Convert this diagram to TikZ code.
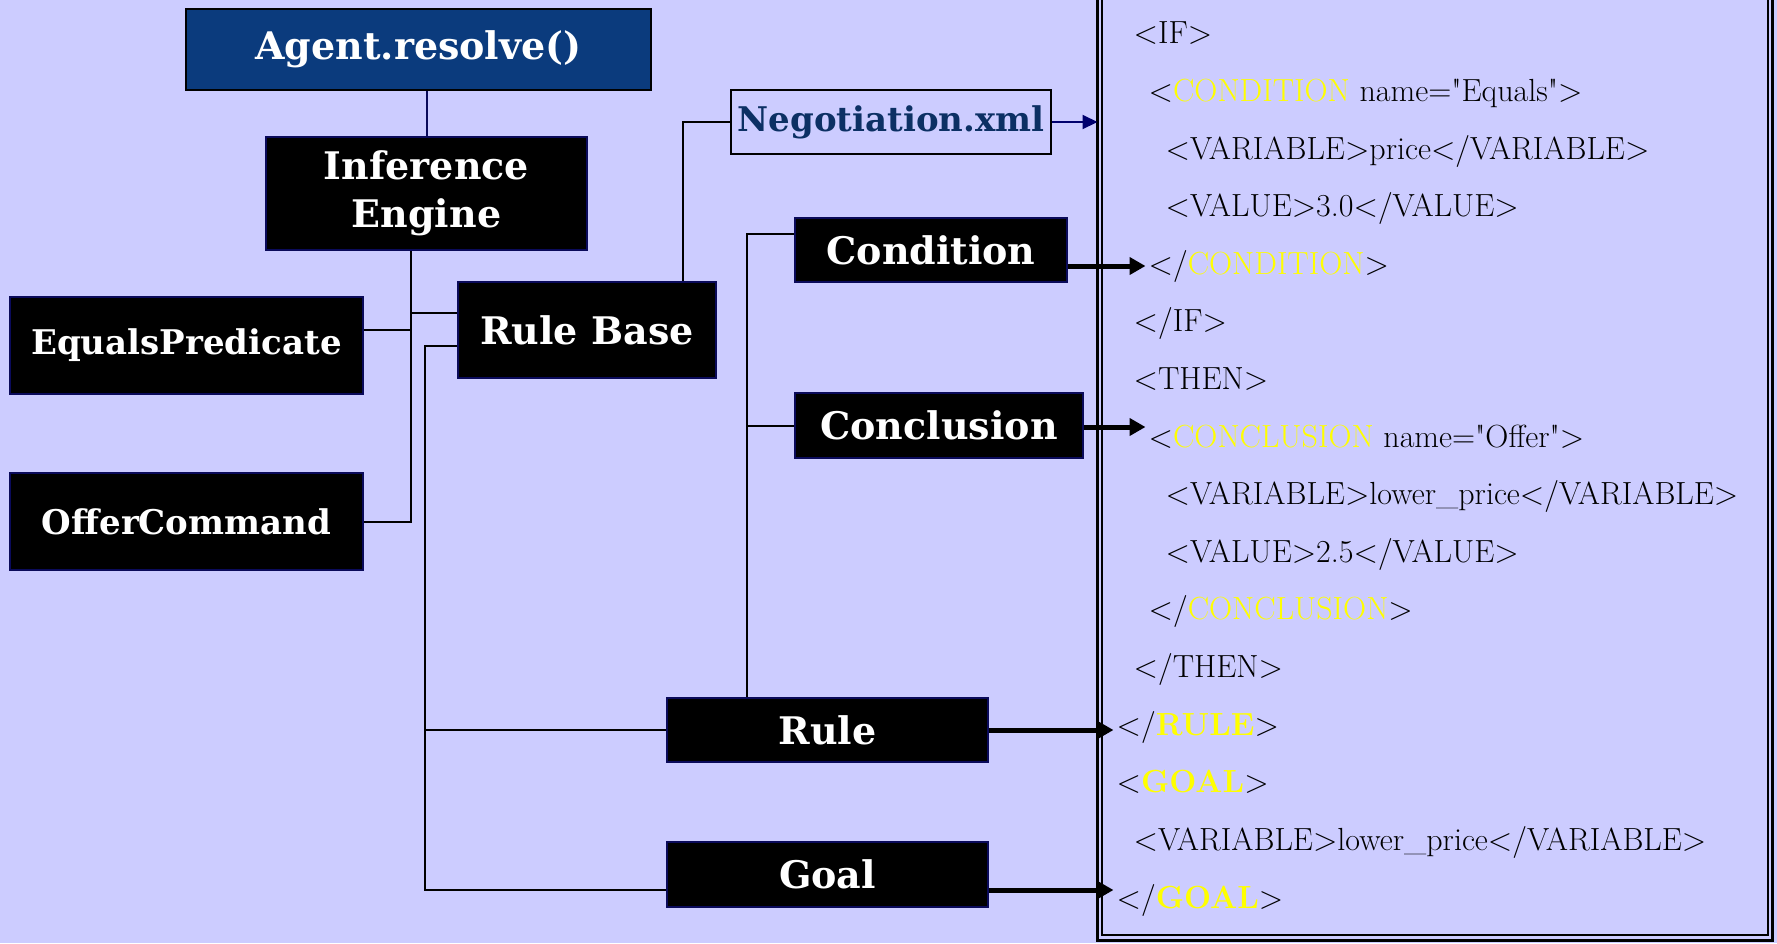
\documentclass[tikz,border=0pt]{standalone}
\usepackage{fontspec}
\newfontfamily\boxfont{DejaVu Serif}
\newfontfamily\xmlfont{Latin Modern Roman}[Ligatures=TeXOff]
\usetikzlibrary{arrows.meta,calc}
\definecolor{bgcol}{RGB}{204,204,255}
\definecolor{agentblue}{RGB}{11,59,125}
\definecolor{navyedge}{RGB}{10,10,90}
\definecolor{filetext}{RGB}{12,48,100}
\definecolor{kwyellow}{RGB}{255,255,0}
\definecolor{linknavy}{RGB}{0,0,110}
\newcommand{\kw}[1]{\textcolor{kwyellow}{#1}}
\begin{document}
\begin{tikzpicture}[x=1pt,y=-1pt,
  bigfont/.style={font=\boxfont\bfseries\fontsize{38}{48}\selectfont},
  smallfont/.style={font=\boxfont\bfseries\fontsize{34}{40}\selectfont},
  darkbox/.style={draw=navyedge, line width=2.5pt, fill=black, text=white,
    inner sep=0pt, align=center, bigfont},
  agentbox/.style={darkbox, draw=black, fill=agentblue},
  filebox/.style={draw=black, line width=2pt, fill=bgcol, text=filetext,
    inner sep=0pt, smallfont},
  link/.style={draw=black, line width=2pt},
  navylink/.style={draw=navyedge, line width=2pt},
  filearrow/.style={draw=linknavy, line width=2pt,
    -{Triangle[length=15pt,width=14pt]}},
  bigarrow/.style={draw=black, line width=5pt,
    -{Triangle[length=16pt,width=17pt]}},
  xml/.style={anchor=base west, inner sep=3pt, text=black,
    font=\xmlfont\fontsize{32}{38}\selectfont},
]
% canvas
\fill[bgcol] (0,0) rectangle (1777,943);
\useasboundingbox (0,0) rectangle (1777,943);

% document frame (double rule, open at the top)
\coordinate (xmlnw) at (1097.5,-10);
\coordinate (xmlse) at (1772,940);
\draw[line width=3pt] (xmlnw) |- (xmlse) -- (1772,-10);
\draw[line width=2pt] (1102,-10) |- (1767.5,935) -- (1767.5,-10);

% class boxes
\node[agentbox, minimum width=465pt, minimum height=81pt] (agent) at (418.5,49.5) {Agent.resolve()};
\node[darkbox, minimum width=321pt, minimum height=113pt] (ie) at (426.5,193.5) {Inference\\Engine};
\node[darkbox, smallfont, minimum width=353pt, minimum height=97pt] (ep) at (186.5,345.5) {EqualsPredicate};
\node[darkbox, smallfont, minimum width=353pt, minimum height=97pt] (oc) at (186.5,521.5) {OfferCommand};
\node[darkbox, minimum width=258pt, minimum height=96pt] (rb) at (587,330) {Rule Base};
\node[filebox, minimum width=320pt, minimum height=64pt] (neg) at (891,122) {Negotiation.xml};
\node[darkbox, minimum width=272pt, minimum height=64pt] (cond) at (931,250) {Condition};
\node[darkbox, minimum width=288pt, minimum height=65pt] (concl) at (939,425.5) {Conclusion};
\node[darkbox, minimum width=321pt, minimum height=64pt] (rule) at (827.5,730) {Rule};
\node[darkbox, minimum width=321pt, minimum height=65pt] (goal) at (827.5,874.5) {Goal};

% XML listing
\node[xml] (x1)  at (1130.5,43)  {<IF>};
\node[xml] (x2)  at (1145.5,101) {<\kw{CONDITION} name="Equals">};
\node[xml] (x3)  at (1162.5,159) {<VARIABLE>price</VARIABLE>};
\node[xml] (x4)  at (1162.5,216) {<VALUE>3.0</VALUE>};
\node[xml] (x5)  at (1145.5,274) {</\kw{CONDITION}>};
\node[xml] (x6)  at (1130.5,331) {</IF>};
\node[xml] (x7)  at (1130.5,389) {<THEN>};
\node[xml] (x8)  at (1145.5,447) {<\kw{CONCLUSION} name="Offer">};
\node[xml] (x9)  at (1162.5,504) {<VARIABLE>lower\_price</VARIABLE>};
\node[xml] (x10) at (1162.5,562) {<VALUE>2.5</VALUE>};
\node[xml] (x11) at (1145.5,619) {</\kw{CONCLUSION}>};
\node[xml] (x12) at (1130.5,677) {</THEN>};
\node[xml] (x13) at (1113.5,735) {</\kw{\bfseries RULE}>};
\node[xml] (x14) at (1113.5,792) {<\kw{\bfseries GOAL}>};
\node[xml] (x15) at (1130.5,850) {<VARIABLE>lower\_price</VARIABLE>};
\node[xml] (x16) at (1113.5,908) {</\kw{\bfseries GOAL}>};

% Agent to inference engine
\draw[navylink] (ie.north) -- (ie.north |- agent.south);

% inference engine trunk
\coordinate (trunk) at ($(ie.south)+(-15.5,0)$);
\draw[link] (trunk) -- (trunk |- oc.east) -- (oc.east);
\coordinate (epc) at ($(ep.east)+(0,-15.5)$);
\draw[link] (epc) -- (epc -| trunk);
\coordinate (rbc) at ($(rb.west)+(0,-17)$);
\draw[link] (rbc) -- (rbc -| trunk);

% rule base to rules and goals
\coordinate (rbl) at ($(rb.west)+(0,16)$);
\coordinate (trunkb) at ($(rbl)+(-31.5,0)$);
\coordinate (goalc) at ($(goal.west)+(0,15.5)$);
\draw[link] (rbl) -- (trunkb) |- (goalc);
\draw[link] (rule.west) -- (rule.west -| trunkb);

% rule base to file
\coordinate (rbt) at ($(rb.north)+(96,0)$);
\draw[link] (rbt) |- (neg.west);

% rule to condition and conclusion
\coordinate (rut) at ($(rule.north)+(-80.5,0)$);
\coordinate (condc) at ($(cond.west)+(0,-16)$);
\draw[link] (rut) |- (condc);
\draw[link] (concl.west) -- (concl.west -| rut);

% arrows into the listing
\draw[filearrow] (neg.east) -- (neg.east -| xmlnw);
\coordinate (ca) at ($(cond.east)+(0,16)$);
\draw[bigarrow] (ca) -- (ca -| x5.west);
\coordinate (cla) at ($(concl.east)+(0,1.5)$);
\draw[bigarrow] (cla) -- (cla -| x8.west);
\draw[bigarrow] (rule.east) -- (rule.east -| x13.west);
\coordinate (ga) at ($(goal.east)+(0,15.5)$);
\draw[bigarrow] (ga) -- (ga -| x16.west);
\end{tikzpicture}
\end{document}
